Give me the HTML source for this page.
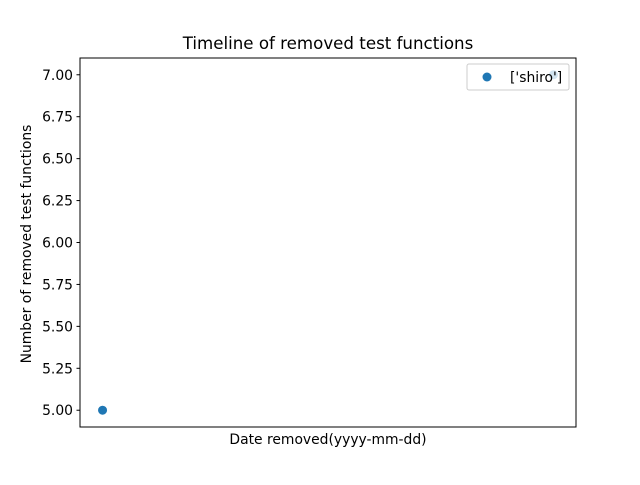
<!DOCTYPE html>
<html><head><meta charset="utf-8"><style>
body{margin:0;background:#fff;}
svg text{font-family:"DejaVu Sans","Liberation Sans",sans-serif;fill:#000;}
</style></head><body>
<svg width="640" height="480" id="c">
<rect width="640" height="480" fill="#fff"/>
<text x="328" y="49" font-size="16.67" text-anchor="middle">Timeline of removed test functions</text>
<text x="328" y="444" font-size="13.89" text-anchor="middle">Date removed(yyyy-mm-dd)</text>
<text transform="translate(31,244) rotate(-90)" font-size="13.89" text-anchor="middle">Number of removed test functions</text>
<g id="yt"></g>
<g id="pts"></g>
<rect x="80" y="58" width="496" height="369" fill="none" stroke="#000" stroke-width="1"/>
<g>
<rect x="467" y="64" width="102" height="26" rx="2" fill="#fff" fill-opacity="0.8" stroke="#ccc"/>
<circle cx="487" cy="77" r="4.5" fill="#1f77b4"/>
<text x="510" y="82" font-size="13.89">['shiro']</text>
</g>
</svg>
<script>
const categories=["d1","d2"];
const values=[5,7];
const yTicks=[5.00,5.25,5.50,5.75,6.00,6.25,6.50,6.75,7.00];
const L=80,R=576,T=58,B=427;
const ymin=4.9,ymax=7.1;
const n=categories.length;
const xs=i=>L+(R-L)*((i+0.05*(n-1))/((n-1)*1.1||1));
const ys=v=>B-(B-T)*(v-ymin)/(ymax-ymin);
const NS="http://www.w3.org/2000/svg";
const yt=document.getElementById('yt');
yTicks.forEach(t=>{
 const y=ys(t);
 const l=document.createElementNS(NS,'line');
 l.setAttribute('x1',L-3.5);l.setAttribute('x2',L);l.setAttribute('y1',y);l.setAttribute('y2',y);l.setAttribute('stroke','#000');
 
 
 yt.appendChild(l);
 const tx=document.createElementNS(NS,'text');
 tx.setAttribute('x',L-7);tx.setAttribute('y',y+5);tx.setAttribute('font-size','13.89');tx.setAttribute('text-anchor','end');
 tx.textContent=t.toFixed(2);
 
 
 yt.appendChild(tx);
});
const pts=document.getElementById('pts');
values.forEach((v,i)=>{
 const c=document.createElementNS(NS,'circle');
 c.setAttribute('cx',xs(i));c.setAttribute('cy',ys(v));c.setAttribute('r',4.5);c.setAttribute('fill','#1f77b4');
 
 
 pts.appendChild(c);
});
</script>
</body></html>
